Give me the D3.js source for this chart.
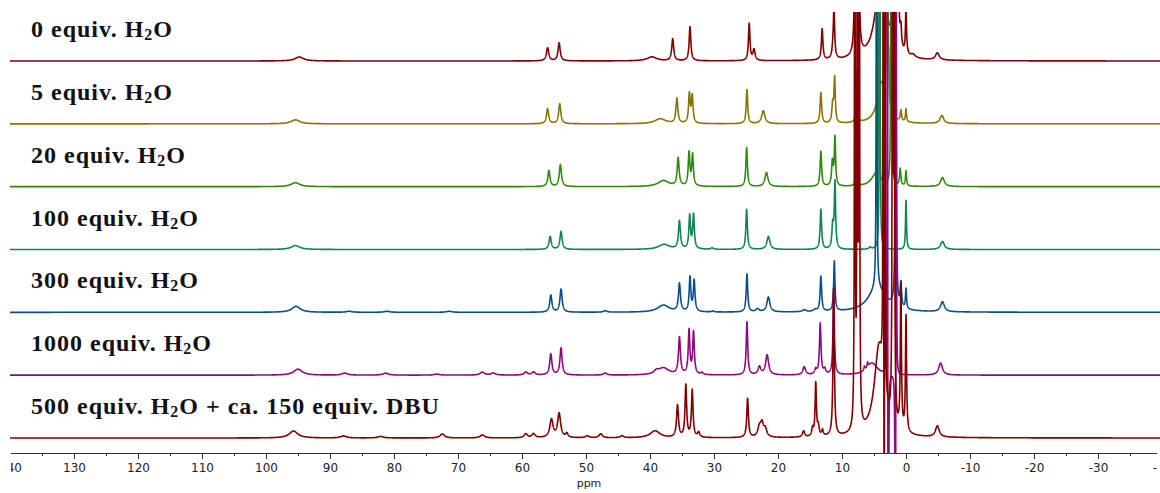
<!DOCTYPE html>
<html>
<head>
<meta charset="utf-8">
<script src="https://cdn.jsdelivr.net/npm/d3@7"></script>
<style>
  body { margin: 0; background: #fff; }
  svg { display: block; }
</style>
</head>
<body>
<svg id="canvas" width="1160" height="493"></svg>
<script>
(function() {
  var width = 1160, height = 493

  // one row per spectrum, top to bottom
  const amounts = ["0", "5", "20", "100", "300", "1000", "500"]
  const labelTails = ["", "", "", "", "", "", " + ca. 150 equiv. DBU"]
  const colors = ["#800000", "#8a7300", "#2f8a0c", "#0f8552", "#0b4f88", "#8c0a7c", "#800000"]

  // peak lists: [ppm, intensity, half width (ppm)]
  const peaks0 = [[94.8, 4, 0.8], [56.0, 13, 0.22], [54.2, 18, 0.2], [39.7, 4, 0.9], [36.45, 22, 0.18],
    [33.75, 34, 0.16], [24.5, 37, 0.14], [23.75, 11, 0.2], [13.1, 31, 0.14], [11.4, 8, 0.2], [11.25, 48, 0.12],
    [7.9, 900, 0.05], [7.5, 900, 0.06], [4.0, 82, 0.95], [3.3, 900, 0.04], [1.9, 900, 0.05], [1.4, 900, 0.07],
    [0.8, 18, 0.12], [0.0, 46, 0.1], [-1.1, 3, 0.4], [-4.9, 7, 0.35]]
  const peaks1 = [[95.4, 4, 0.8], [56.0, 15, 0.2], [54.1, 20, 0.2], [38.4, 5, 1.0], [35.8, 25, 0.18],
    [33.85, 29, 0.15], [33.4, 27, 0.15], [24.85, 34, 0.14], [22.3, 13, 0.3], [13.3, 31, 0.14], [11.45, 18, 0.15],
    [11.15, 44, 0.12], [7.7, 52, 0.1], [3.8, 40, 0.8], [2.95, 900, 0.04], [2.7, 38, 0.08], [0.8, 11, 0.12],
    [0.0, 13, 0.1], [-5.6, 8, 0.35]]
  const peaks2 = [[95.4, 4, 0.8], [55.8, 16, 0.2], [54.0, 22, 0.2], [37.9, 6, 1.0], [35.6, 28, 0.18],
    [33.9, 33, 0.15], [33.35, 31, 0.15], [24.9, 39, 0.14], [21.8, 14, 0.28], [13.3, 35, 0.14], [11.5, 24, 0.15],
    [11.1, 48, 0.12], [7.8, 40, 0.08], [4.8, 10, 0.9], [4.35, 900, 0.03], [2.3, 900, 0.04], [0.9, 17, 0.12],
    [0.0, 15, 0.1], [-5.7, 9, 0.35]]
  const peaks3 = [[95.4, 4, 0.8], [55.6, 13, 0.2], [53.9, 18, 0.2], [37.8, 5, 1.0], [35.4, 28, 0.18],
    [33.8, 33, 0.15], [33.2, 34, 0.15], [30.3, 1.5, 0.2], [24.9, 40, 0.14], [21.5, 13, 0.28], [13.3, 40, 0.14],
    [11.45, 23, 0.15], [11.1, 66, 0.12], [5.6, 2, 0.2], [4.1, 900, 0.04], [0.0, 49, 0.09], [-5.7, 8, 0.35]]
  const peaks4 = [[95.3, 6, 0.8], [87.0, 1, 0.5], [81.1, 1, 0.5], [71.4, 1, 0.5], [55.5, 17, 0.2],
    [53.9, 23, 0.2], [47.0, 1.5, 0.3], [37.9, 7, 1.1], [35.4, 28, 0.18], [33.75, 34, 0.15], [33.1, 31, 0.15],
    [30.2, 1, 0.2], [24.85, 38, 0.14], [23.2, 3, 0.3], [21.5, 15, 0.28], [15.9, 2, 0.3], [14.2, 2, 0.3],
    [13.3, 35, 0.14], [11.2, 50, 0.12], [4.5, 25, 1.6], [4.6, 900, 0.04], [1.6, 900, 0.05], [0.8, 24, 0.12],
    [0.0, 20, 0.1], [-5.7, 10, 0.35]]
  const peaks5 = [[95.0, 6, 0.8], [87.7, 2, 0.5], [81.3, 2, 0.5], [73.3, 1, 0.5], [66.2, 3, 0.4],
    [64.5, 2, 0.4], [59.4, 3, 0.3], [58.2, 3, 0.3], [55.5, 21, 0.2], [53.9, 27, 0.2], [47.0, 2, 0.3],
    [39.0, 3, 0.4], [37.9, 7, 1.0], [35.4, 37, 0.18], [33.9, 44, 0.15], [33.2, 42, 0.15], [31.9, 2, 0.2],
    [24.85, 53, 0.14], [22.9, 8, 0.25], [21.7, 20, 0.28], [15.9, 8, 0.25], [14.1, 5, 0.2], [13.4, 51, 0.14],
    [12.7, 5, 0.2], [11.3, 86, 0.12], [6.5, 4, 0.1], [6.0, 5, 0.1], [5.3, 12, 1.0], [2.9, 900, 0.04],
    [2.78, -900, 0.04], [1.65, -900, 0.04], [1.55, 900, 0.04], [-5.4, 12, 0.35]]
  const peaks6 = [[95.7, 7, 0.8], [87.9, 2, 0.5], [82.1, 1.5, 0.5], [72.45, 4, 0.4], [66.2, 3, 0.4],
    [59.4, 4, 0.3], [58.2, 4, 0.3], [55.4, 18, 0.3], [54.2, 24, 0.28], [53.0, 4, 0.2], [49.8, 2, 0.3],
    [47.7, 4, 0.3], [44.4, 2, 0.3], [39.2, 7, 0.9], [35.7, 32, 0.18], [34.4, 52, 0.15], [33.4, 47, 0.15],
    [32.4, 5, 0.2], [24.75, 39, 0.15], [22.9, 10, 0.3], [22.5, 12, 0.25], [22.0, 8, 0.3], [16.0, 6, 0.2],
    [14.6, 8, 0.15], [14.1, 53, 0.12], [13.7, 10, 0.15], [13.05, 6, 0.15], [11.3, 148, 0.12],
    [8.0, 900, 0.05], [7.6, 900, 0.05], [7.3, 900, 0.05], [4.2, 90, 0.9], [3.55, 900, 0.04],
    [3.4, -900, 0.03], [3.3, 900, 0.04], [2.1, 900, 0.05], [1.85, 900, 0.05], [0.8, 145, 0.1],
    [0.0, 116, 0.1], [-4.9, 11, 0.35]]
  const spectra = [peaks0, peaks1, peaks2, peaks3, peaks4, peaks5, peaks6]

  const majorTicks = [140, 130, 120, 110, 100, 90, 80, 70, 60, 50, 40, 30, 20, 10, 0, -10, -20, -30, -40]
  const minorTicks = [135, 125, 115, 105, 95, 85, 75, 65, 55, 45, 35, 25, 15, 5, -5, -15, -25, -35]

  const svg = d3.select("#canvas")

  const x = d3.scaleLinear().domain([140, -40]).range([10, 1162])
  const row = d3.scalePoint().domain(d3.range(spectra.length)).range([61, 438])
  const y = d3.scaleLinear().domain([0, 100]).range([0, -100])

  const defs = svg.append("defs")
  defs.append("clipPath").attr("id", "plotclip")
    .append("rect").attr("x", 10).attr("y", 12).attr("width", 1150).attr("height", 441)
  // in the axis group's own coordinates (it is moved down to the axis line)
  defs.append("clipPath").attr("id", "axisclip")
    .append("rect").attr("x", 11).attr("y", -5).attr("width", 1146).attr("height", 40)

  // sample points along the ppm axis, plus every peak top
  const grid = d3.range(140, -40.001, -0.02)

  function spectrum(peaks) {
    const pts = grid.concat(peaks.map(p => p[0])).sort((a, b) => b - a)
    return pts.map(ppm => {
      let v = 0
      peaks.forEach(p => {
        const d = ppm - p[0]
        v += p[1] * p[2] * p[2] / (d * d + p[2] * p[2])
      })
      return [ppm, v]
    })
  }

  const traces = svg.append("g").attr("clip-path", "url(#plotclip)")

  spectra.forEach((peaks, i) => {
    const line = d3.line()
      .x(d => x(d[0]))
      .y(d => row(i) + y(d[1]))
    traces.append("path")
      .datum(spectrum(peaks))
      .attr("d", line)
      .attr("fill", "none")
      .attr("stroke", colors[i])
      .attr("stroke-width", 1.6)
      .attr("stroke-linejoin", "round")
  })

  // labels
  const labels = svg.append("g")
    .attr("font-family", "'Liberation Serif', 'Times New Roman', serif")
    .attr("font-weight", "bold")
    .attr("font-size", "24px")
    .attr("letter-spacing", "1px")
    .attr("fill", "#111")

  amounts.forEach((a, i) => {
    const t = labels.append("text")
      .attr("x", 31)
      .attr("y", row(i) - 24)
    t.append("tspan").text(a + " equiv. H")
    t.append("tspan").attr("font-size", "16px").attr("dy", 3).text("2")
    t.append("tspan").attr("dy", -3).text("O" + labelTails[i])
  })

  // axis
  const axisG = svg.append("g")
    .attr("transform", "translate(0,453)")
    .attr("clip-path", "url(#axisclip)")

  axisG.append("g")
    .call(d3.axisBottom(x).tickValues(minorTicks).tickSize(3).tickSizeOuter(0).tickFormat(""))
    .call(g => g.select(".domain").remove())

  axisG.append("g")
    .call(d3.axisBottom(x).tickValues(majorTicks).tickSize(6).tickSizeOuter(0).tickPadding(4).tickFormat(d => d))

  axisG.selectAll("line").attr("stroke", "#333")
  axisG.selectAll(".domain").attr("stroke", "#333")
  axisG.selectAll("text")
    .attr("font-family", "'DejaVu Sans', Verdana, sans-serif")
    .attr("font-size", "12px")
    .attr("fill", "#222")

  svg.append("text")
    .attr("x", 589)
    .attr("y", 487)
    .attr("text-anchor", "middle")
    .attr("font-family", "'DejaVu Sans', Verdana, sans-serif")
    .attr("font-size", "11px")
    .attr("fill", "#222")
    .text("ppm")
})();
</script>
</body>
</html>
